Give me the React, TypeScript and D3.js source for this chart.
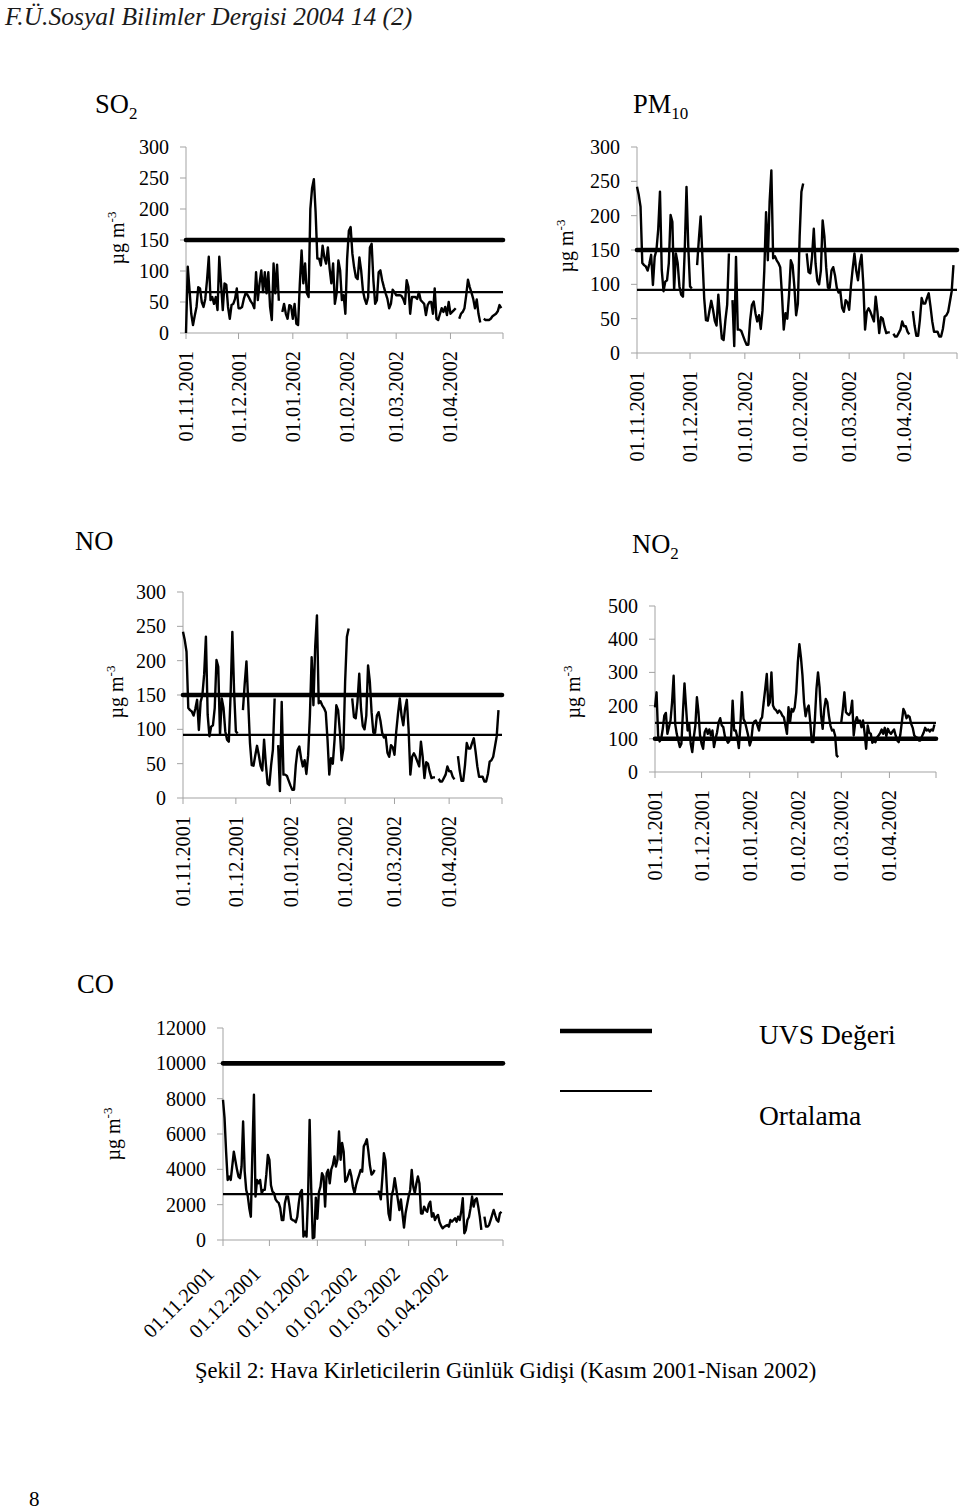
import React from 'react';
import * as d3 from 'd3';

const FONT = '"Liberation Serif", "Times New Roman", serif';

// ---- category axis (daily, 01.11.2001 .. 30.04.2002) ----
const dateLabels = ['01.11.2001', '01.12.2001', '01.01.2002', '01.02.2002', '01.03.2002', '01.04.2002'];
const monthStartDays = [0, 30, 61, 92, 120, 151, 181];

// ---- per-panel constants ----
const panelNames = ['SO2', 'PM10', 'NO', 'NO2', 'CO'];
const uvsLimits = [150, 150, 150, 100, 10000];
const meanValues = [66, 92, 92, 148, 2600];
const axisMax = [300, 300, 300, 500, 12000];
const axisStep = [50, 50, 50, 100, 2000];
const legendLabels = ['UVS Değeri', 'Ortalama'];

// ---- daily series (µg m-3), null = missing day ----
const so2Values: (number | null)[] = [
  0, 107, 70, 31, 13, 28, 42, 74, 72, 50,
  42, 55, 85, 123, 53, 58, 47, 58, 37, 123,
  80, 37, 80, 78, 42, 23, 45, 47, 55, 72,
  40, 40, 42, 55, 64, 62, 57, 51, 47, 40,
  98, 53, 80, 101, 66, 98, 64, 98, 42, 21,
  112, 64, 110, 52, null, 34, 47, 31, 23, 45,
  43, 23, 47, 15, 13, 80, 133, 80, 112, 64,
  58, 200, 234, 248, 195, 120, 120, 109, 141, 122,
  112, 138, 104, 80, 112, 47, 64, 117, 101, 53,
  61, 31, 120, 165, 171, 128, 106, 90, 87, 122,
  101, 69, 55, 47, 58, 138, 144, 85, 47, 53,
  98, 101, 85, 74, 64, 55, 40, 47, 70, 66,
  61, 61, 61, 60, 55, 47, 85, 74, 31, 58,
  58, 58, 55, 66, 53, 50, 47, 29, 45, 50,
  50, 31, 72, 23, 21, 31, 40, 34, 42, 29,
  50, 31, 34, 37, 40, null, 23, 31, 34, 40,
  61, 86, 74, 65, 55, 40, 54, 31, 17, null,
  23, 21, 21, 21, 23, 27, 29, 31, 35, 45, 40,
];

const pm10Values: (number | null)[] = [
  242, 230, 213, 131, 128, 126, 120, 130, 143, 99,
  140, 150, 180, 235, 121, 90, 104, 106, 131, 201,
  191, 92, 145, 131, 97, 85, 82, 150, 242, 155,
  97, 94, null, null, 128, 166, 199, 140, 80, 48,
  47, 62, 76, 63, 47, 40, 85, 50, 21, 19,
  48, 70, 145, null, 77, 10, 140, 34, 34, 32,
  25, 18, 12, 12, 48, 70, 75, 58, 46, 55,
  35, 62, 120, 205, 135, 220, 266, 138, 141, 135,
  131, 125, 85, 34, 58, 50, 85, 135, 128, 97,
  55, 72, 170, 235, 247, null, 145, 118, 116, 140,
  181, 130, 105, 100, 120, 193, 170, 125, 95, 95,
  120, 125, 113, 95, 88, 90, 66, 60, 77, 74,
  63, 97, 123, 145, 120, 106, 130, 143, 100, 34,
  60, 65, 60, 53, 46, 82, 60, 29, 52, 50,
  38, 29, 30, 30, null, 28, 24, 24, 29, 34,
  46, 39, 39, 31, 27, null, 61, 40, 25, 25,
  48, 80, 72, 72, 80, 87, 68, 46, 31, 31,
  31, 24, 24, 35, 53, 55, 60, 75, 90, 128,
];

// the NO panel of the source figure shows the same curve as PM10
const noValues: (number | null)[] = [
  242, 230, 213, 131, 128, 126, 120, 130, 143, 99,
  140, 150, 180, 235, 121, 90, 104, 106, 131, 201,
  191, 92, 145, 131, 97, 85, 82, 150, 242, 155,
  97, 94, null, null, 128, 166, 199, 140, 80, 48,
  47, 62, 76, 63, 47, 40, 85, 50, 21, 19,
  48, 70, 145, null, 77, 10, 140, 34, 34, 32,
  25, 18, 12, 12, 48, 70, 75, 58, 46, 55,
  35, 62, 120, 205, 135, 220, 266, 138, 141, 135,
  131, 125, 85, 34, 58, 50, 85, 135, 128, 97,
  55, 72, 170, 235, 247, null, 145, 118, 116, 140,
  181, 130, 105, 100, 120, 193, 170, 125, 95, 95,
  120, 125, 113, 95, 88, 90, 66, 60, 77, 74,
  63, 97, 123, 145, 120, 106, 130, 143, 100, 34,
  60, 65, 60, 53, 46, 82, 60, 29, 52, 50,
  38, 29, 30, 30, null, 28, 24, 24, 29, 34,
  46, 39, 39, 31, 27, null, 61, 40, 25, 25,
  48, 80, 72, 72, 80, 87, 68, 46, 31, 31,
  31, 24, 24, 35, 53, 55, 60, 75, 90, 128,
];

const no2Values: (number | null)[] = [
  195, 240, 110, 92, 100, 130, 170, 178, 115, 135,
  155, 210, 290, 145, 115, 95, 75, 85, 180, 267,
  195, 125, 145, 85, 60, 105, 140, 225, 180, 110,
  85, 70, 120, 130, 115, 128, 110, 125, 75, 100,
  120, 150, 162, 140, 135, 108, 98, 88, 95, 105,
  215, 125, 125, 105, 72, 140, 240, 160, 150, 130,
  110, 80, 95, 140, 152, 155, 140, 125, 158, 165,
  210, 250, 295, 200, 210, 300, 200, 190, 186, 178,
  185, 180, 170, 165, 140, 115, 195, 150, 190, 182,
  195, 240, 330, 385, 345, 290, 210, 168, 190, 200,
  150, 90, 90, 160, 250, 300, 255, 170, 130, 190,
  220, 210, 170, 140, 125, 127, 110, 50, 45, null,
  150, 190, 240, 180, 175, 172, 180, 215, 110, 150,
  165, 150, 155, 135, 155, 118, 70, 140, 118, 115,
  88, 93, 90, 104, 110, 117, 128, 115, 133, 108,
  130, 120, 115, 122, 128, 110, 95, 90, 112, 150,
  190, 180, 162, 170, 166, 145, 133, 110, 105, 103,
  95, 95, 108, 118, 133, 125, 128, 122, 128, 125, 143,
];

const coValues: (number | null)[] = [
  7940, 6900, 5000, 3400, 3590, 3400, 4200, 5000, 4500, 4000,
  3590, 3500, 4160, 6710, 3900, 2835, 2500, 1800, 1320, 5000,
  8220, 2460, 3400, 3210, 3400, 2650, 2835, 2835, 3700, 4820,
  4540, 3100, 2740, 2650, 2300, 2170, 2100, 1800, 1130, 1130,
  2080, 2460, 2460, 1900, 1200, 1130, 1100, 1000, 1300, 2100,
  2700, 2835, 190, 470, 190, 2500, 6800, 3000, 100, 150,
  2400, 1200, 2700, 3020, 3780, 3590, 1890, 3780, 3970, 3210,
  4000, 4250, 4730, 4160, 4540, 6140, 4540, 5500, 5000, 3300,
  3400, 3700, 3970, 3600, 3000, 2650, 3100, 3400, 3680, 3970,
  3870, 5300, 5480, 5700, 5000, 4200, 3700, 3800, 3970, null,
  2740, 2740, 2300, 3500, 4910, 4500, 2835, 1500, 1130, 2500,
  2835, 3500, 2900, 2300, 1700, 2300, 1500, 700, 1510, 2000,
  2460, 2835, 3970, 3020, 2650, 3200, 3600, 3200, 1500, 1500,
  1890, 1700, 1600, 2000, 2170, 1320, 1510, 1130, 1320, 1420,
  1000, 800, 660, 750, 800, 850, 755, 1130, 1040, 1130,
  1230, 1040, 1320, 1130, 1610, 2360, 380, 570, 1130, 1300,
  1800, 2460, 1890, 2270, 2360, 1890, 1320, 570, null, 1320,
  755, 755, 850, 1130, 1420, 1700, 1400, 1130, 1040, 1510, 1600,
];

const seriesList = [so2Values, pm10Values, noValues, no2Values, coValues];

// ---- layout (pixels) ----
type Layout = {
  x0: number; x1: number; yB: number; yT: number;
  tx: number; ty: number; main: string; sub: string;
  lx: number; ly: number; slanted: boolean;
};
const layouts: Layout[] = [
  { x0: 186, x1: 503, yB: 333, yT: 147, tx: 95, ty: 113, main: 'SO', sub: '2', lx: 124, ly: 238, slanted: false },
  { x0: 637, x1: 957, yB: 353, yT: 147, tx: 633, ty: 113, main: 'PM', sub: '10', lx: 573, ly: 246, slanted: false },
  { x0: 183, x1: 502, yB: 798, yT: 592, tx: 75, ty: 550, main: 'NO', sub: '', lx: 123, ly: 692, slanted: false },
  { x0: 655, x1: 936, yB: 772, yT: 606, tx: 632, ty: 553, main: 'NO', sub: '2', lx: 580, ly: 692, slanted: false },
  { x0: 223, x1: 503, yB: 1240, yT: 1028, tx: 77, ty: 993, main: 'CO', sub: '', lx: 120, ly: 1134, slanted: true },
];

const AXIS = '#a3a3a3';

function Panel({ idx }: { idx: number }) {
  const L = layouts[idx];
  const values = seriesList[idx];
  const max = axisMax[idx];
  const step = axisStep[idx];
  const x = d3.scaleLinear().domain([0, 181]).range([L.x0, L.x1]);
  const y = d3.scaleLinear().domain([0, max]).range([L.yB, L.yT]);
  const line = d3
    .line<number | null>()
    .defined((d) => d != null)
    .x((_, i) => x(i))
    .y((d) => y(d as number));
  const ticks = d3.range(0, max + step / 2, step);
  return (
    <g>
      <text x={L.tx} y={L.ty} fontSize={26.5} fontFamily={FONT} fill="#000">
        {L.main}
        {L.sub ? (
          <tspan fontSize={17} dy={6}>
            {L.sub}
          </tspan>
        ) : null}
      </text>
      <text
        transform={`translate(${L.lx},${L.ly}) rotate(-90)`}
        textAnchor="middle"
        fontSize={20}
        fontFamily={FONT}
        fill="#000"
      >
        µg m<tspan fontSize={13} dy={-8}>-3</tspan>
      </text>
      <line x1={L.x0} x2={L.x0} y1={L.yT} y2={L.yB} stroke={AXIS} strokeWidth={1} />
      <line x1={L.x0} x2={L.x1} y1={L.yB} y2={L.yB} stroke={AXIS} strokeWidth={1} />
      {ticks.map((t) => (
        <g key={'y' + t}>
          <line x1={L.x0 - 6} x2={L.x0} y1={y(t)} y2={y(t)} stroke={AXIS} strokeWidth={1} />
          <text x={L.x0 - 17} y={y(t) + 7} textAnchor="end" fontSize={20} fontFamily={FONT} fill="#000">
            {t}
          </text>
        </g>
      ))}
      {monthStartDays.map((d) => (
        <line key={'xt' + d} x1={x(d)} x2={x(d)} y1={L.yB} y2={L.yB + 6} stroke={AXIS} strokeWidth={1} />
      ))}
      {dateLabels.map((lab, i) => {
        const px = x(monthStartDays[i]);
        const tr = L.slanted
          ? `translate(${px - 7.5},${L.yB + 35}) rotate(-45)`
          : `translate(${px + 7},${L.yB + 18}) rotate(-90)`;
        return (
          <text key={lab} transform={tr} textAnchor="end" fontSize={20.3} fontFamily={FONT} fill="#000">
            {lab}
          </text>
        );
      })}
      <line
        x1={L.x0}
        x2={L.x1}
        y1={y(meanValues[idx])}
        y2={y(meanValues[idx])}
        stroke="#000"
        strokeWidth={2.2}
      />
      <path d={line(values) || ''} fill="none" stroke="#000" strokeWidth={2.4} strokeLinejoin="round" />
      <line
        x1={L.x0}
        x2={L.x1}
        y1={y(uvsLimits[idx])}
        y2={y(uvsLimits[idx])}
        stroke="#000"
        strokeWidth={4.6}
        strokeLinecap="round"
      />
    </g>
  );
}

export default function App() {
  return (
    <svg
      width={960}
      height={1511}
      viewBox="0 0 960 1511"
      style={{ position: 'absolute', left: 0, top: 0, background: '#fff' }}
    >
      <rect x={0} y={0} width={960} height={1511} fill="#fff" />
      <text x={5} y={25} fontSize={25.5} fontStyle="italic" fontFamily={FONT} fill="#1a1a1a">
        F.Ü.Sosyal Bilimler Dergisi 2004 14 (2)
      </text>
      {panelNames.map((n, i) => (
        <Panel key={n} idx={i} />
      ))}
      <line x1={560} x2={652} y1={1031} y2={1031} stroke="#000" strokeWidth={4.6} />
      <line x1={560} x2={652} y1={1091} y2={1091} stroke="#000" strokeWidth={2.2} />
      <text x={759} y={1044} fontSize={27.5} fontFamily={FONT} fill="#000">
        {legendLabels[0]}
      </text>
      <text x={759} y={1125} fontSize={27.5} fontFamily={FONT} fill="#000">
        {legendLabels[1]}
      </text>
      <text x={195} y={1378} fontSize={22.6} fontFamily={FONT} fill="#000">
        Şekil 2: Hava Kirleticilerin Günlük Gidişi (Kasım 2001-Nisan 2002)
      </text>
      <text x={29} y={1506} fontSize={21} fontFamily={FONT} fill="#000">
        8
      </text>
    </svg>
  );
}
